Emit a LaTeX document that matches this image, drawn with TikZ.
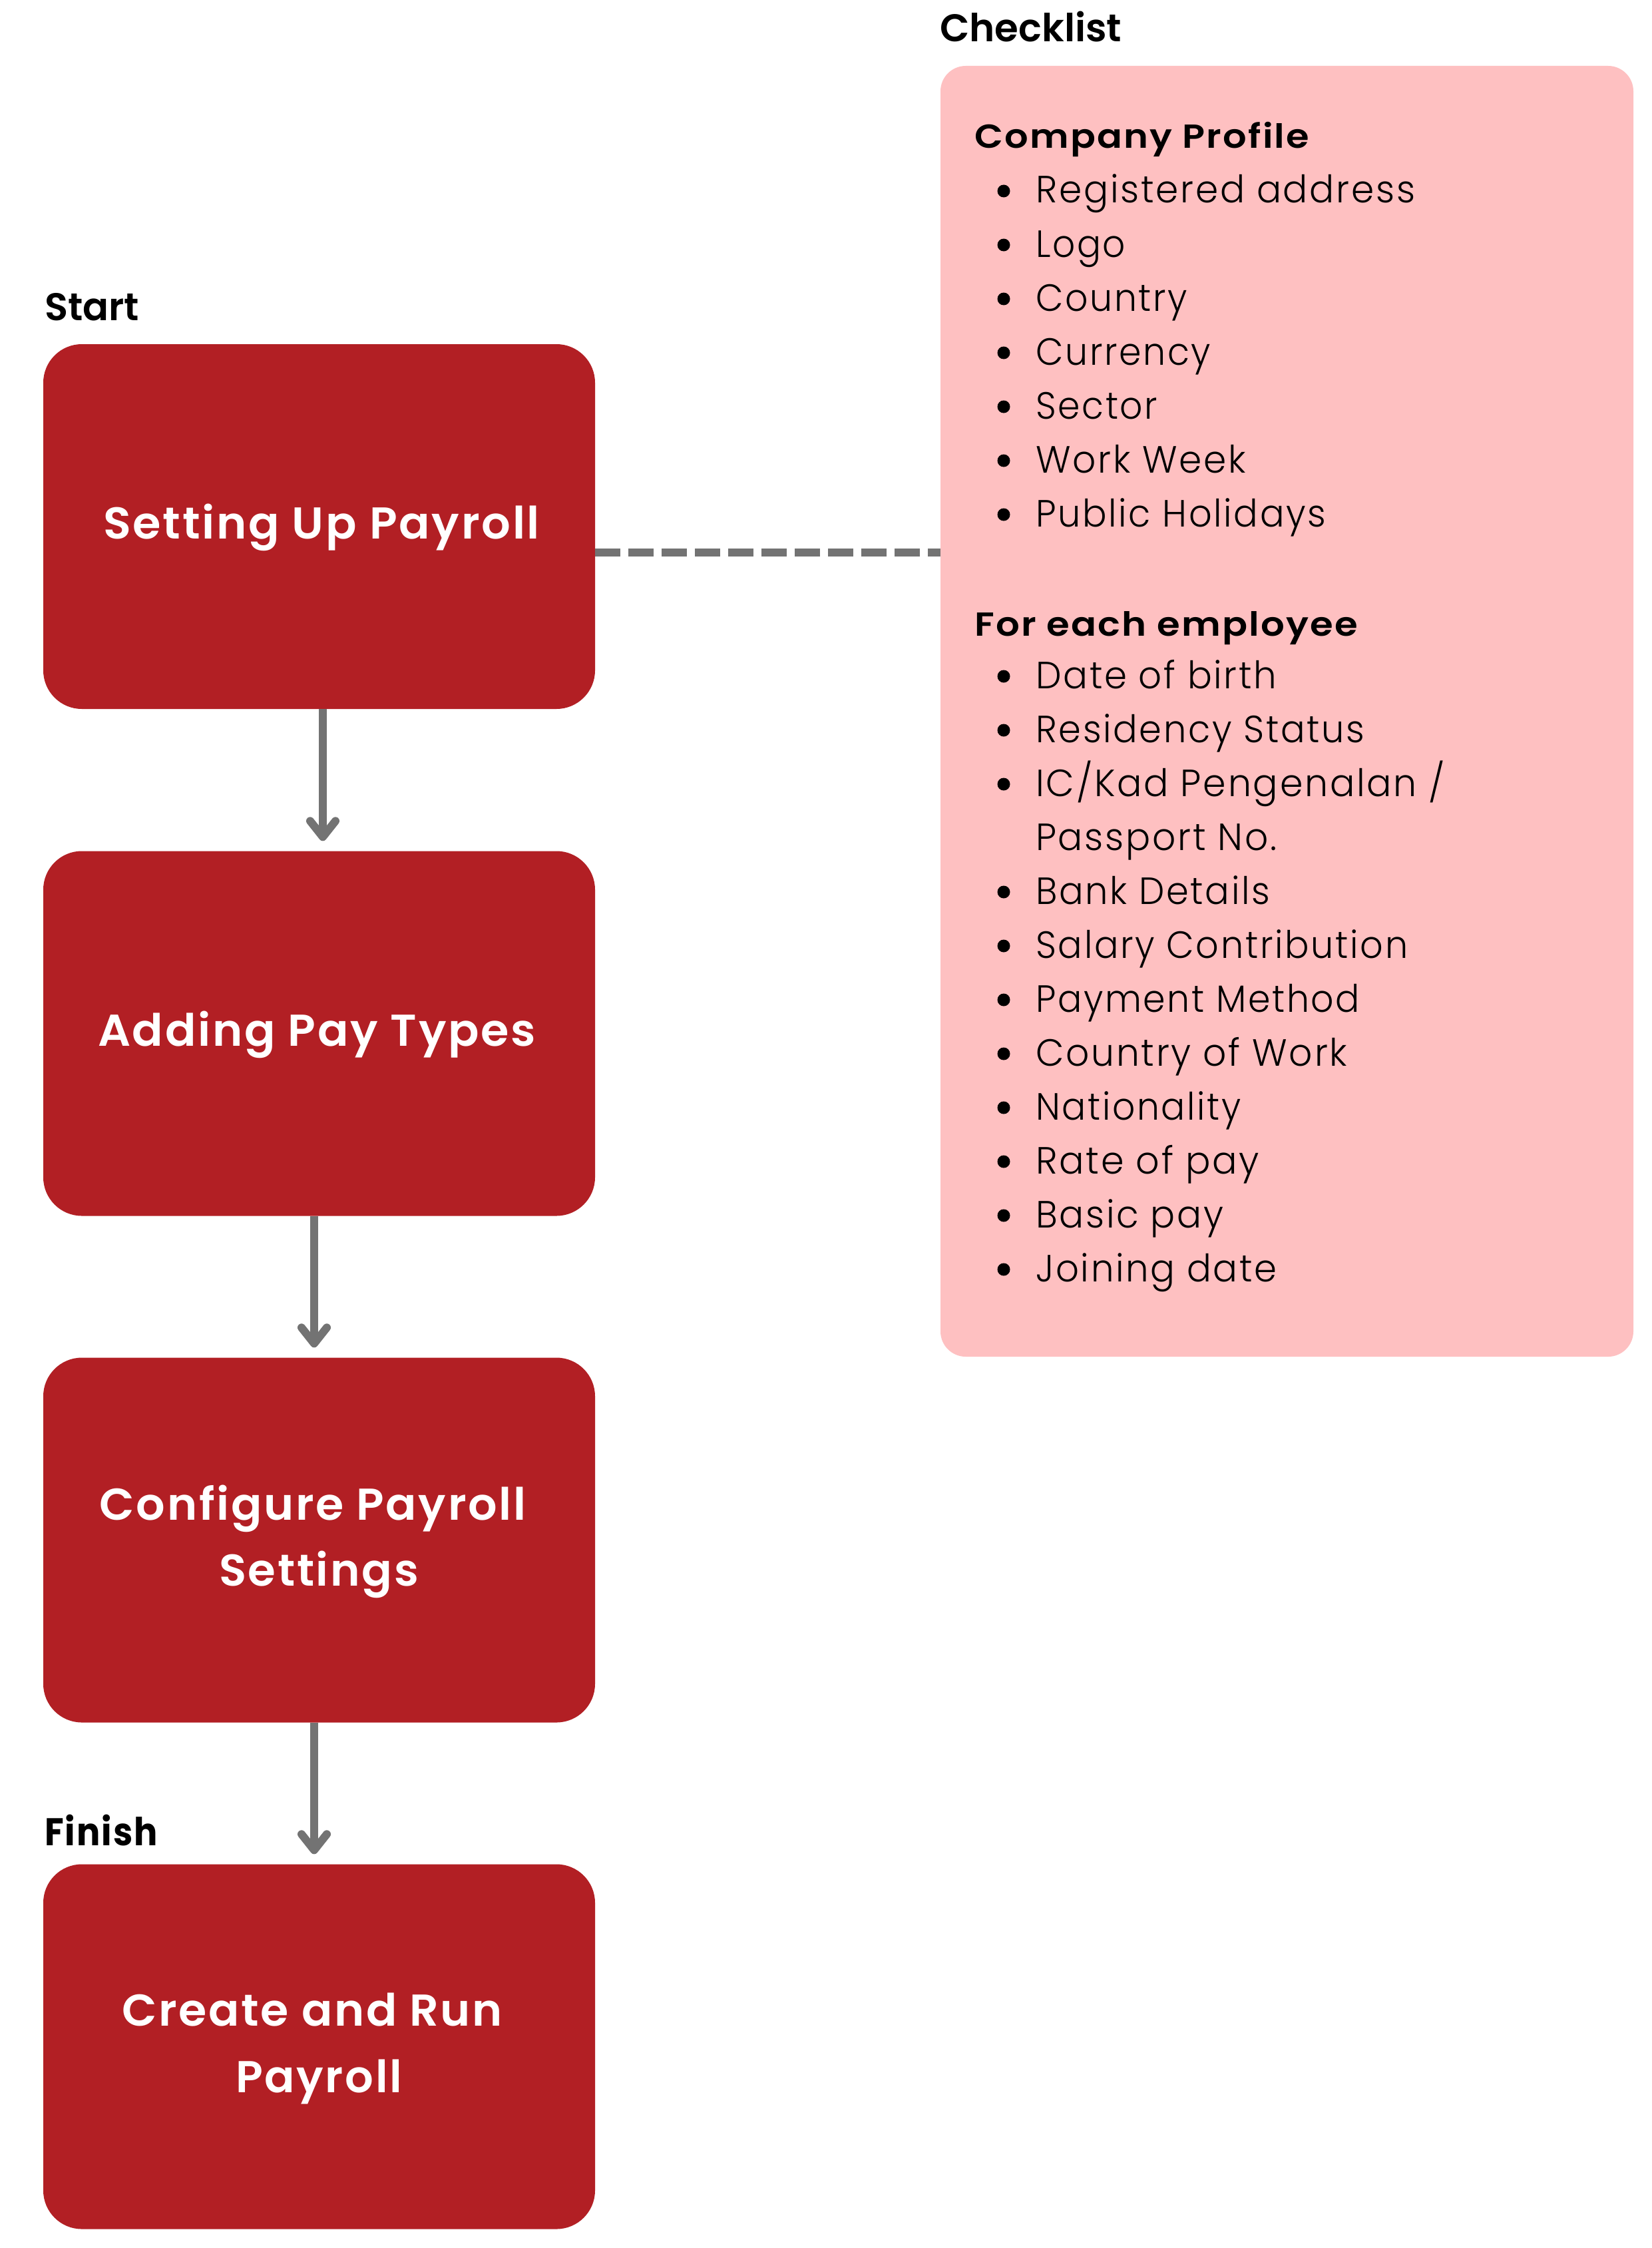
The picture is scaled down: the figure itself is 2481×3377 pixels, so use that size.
\documentclass[tikz,border=0pt]{standalone}
\usepackage{fontspec}
\usepackage{graphicx}
\usetikzlibrary{arrows.meta}
\setmainfont{Poppins}
\newfontfamily\pLight{Poppins Light}[LetterSpace=5]
\newfontfamily\pSemi{Poppins SemiBold}[LetterSpace=4]
\newfontfamily\pMed{Poppins SemiBold}
\newfontfamily\pBold{Poppins Bold}[LetterSpace=4]
\definecolor{boxred}{HTML}{B21F24}
\definecolor{chkpink}{HTML}{FEC0C1}
\definecolor{linegray}{HTML}{737373}
\newsavebox\fitbx
\newlength\fitlen
\newcommand\fitw[2]{\sbox\fitbx{#2}\fitlen=\wd\fitbx\pgfmathsetmacro\fitr{#1/\fitlen}\scalebox{\fitr}[1]{\usebox\fitbx}}
\newcommand\itemfont{\pLight\fontsize{57}{60}\selectfont}
\newcommand\headfont{\pSemi\fontsize{50}{55}\selectfont}
\newcommand\labfont{\pMed\fontsize{58}{62}\selectfont}
\newcommand\finfont{\pBold\fontsize{58}{62}\selectfont}
\newcommand\titfont{\pSemi\fontsize{67}{72}\selectfont}
\tikzset{
  stepbox/.style={draw=none, fill=boxred, rounded corners=58pt, minimum width=829pt, minimum height=548pt, inner sep=0pt},
  chkbox/.style={draw=none, fill=chkpink, rounded corners=38pt, minimum width=1041pt, minimum height=1939pt, inner sep=0pt},
  itm/.style={inner sep=0pt, anchor=base west, text=black, font=\itemfont},
  hdr/.style={inner sep=0pt, anchor=base west, text=black, font=\headfont},
  lab/.style={inner sep=0pt, anchor=base west, text=black, font=\labfont},
  fin/.style={inner sep=0pt, anchor=base west, text=black, font=\finfont},
  tit/.style={inner sep=0pt, anchor=base, text=white, font=\titfont},
  bul/.style={circle, fill=black, draw=none, inner sep=0pt, minimum size=19pt},
  arr/.style={draw=linegray, line width=12pt, shorten >=15pt, -{Straight Barb[length=24pt,width=38pt,round]}},
  dashline/.style={draw=linegray, line width=12pt, dash pattern=on 38pt off 12pt}
}
\newcommand\chkitem[4]{%
  \node[bul] (#1b) at (1508,{#2-18}) {};
  \node[itm] (#1) at (1556,#2) {\fitw{#3}{#4}};}
\begin{document}
\begin{tikzpicture}[x=1pt,y=-1pt]
\useasboundingbox (0,0) rectangle (2481,3377);
\fill[white] (0,0) rectangle (2481,3377);
% step boxes
\node[stepbox] (b1) at (479.5,791) {};
\node[stepbox] (b2) at (479.5,1552.5) {};
\node[stepbox] (b3) at (479.5,2313.5) {};
\node[stepbox] (b4) at (479.5,3074.5) {};
% checklist box
\node[chkbox] (chk) at (1933.5,1068.5) {};
% labels
\node[lab] (start) at (67,481) {\fitw{142}{Start}};
\node[lab] (checklist) at (1412,63) {\fitw{273}{Checklist}};
\node[fin] (finish) at (67,2772) {\fitw{170}{Finish}};
% titles
\node[tit] (t1) at (483,809) {\fitw{656}{Setting Up Payroll}};
\node[tit] (t2) at (476,1571) {\fitw{658}{Adding Pay Types}};
\node[tit] (t3a) at (470,2283) {\fitw{641}{Configure Payroll}};
\node[tit] (t3b) at (479,2382) {\fitw{300}{Settings}};
\node[tit] (t4a) at (469,3043) {\fitw{572}{Create and Run}};
\node[tit] (t4b) at (479,3143) {\fitw{250}{Payroll}};
% connectors
\coordinate (ax1) at (485,0);
\coordinate (ax2) at (472,0);
\coordinate (dy) at (0,830);
\draw[arr] (b1.south -| ax1) -- (b2.north -| ax1);
\draw[arr] (b2.south -| ax2) -- (b3.north -| ax2);
\draw[arr] (b3.south -| ax2) -- (b4.north -| ax2);
\draw[dashline] (b1.east |- dy) -- (chk.west |- dy);
% checklist contents
\node[hdr] (h1) at (1464,223) {\fitw{503}{Company Profile}};
\chkitem{c1}{305}{570}{Registered address}
\chkitem{c2}{386}{135}{Logo}
\chkitem{c3}{467}{228}{Country}
\chkitem{c4}{548}{263}{Currency}
\chkitem{c5}{629}{183}{Sector}
\chkitem{c6}{710}{316}{Work Week}
\chkitem{c7}{791}{436}{Public Holidays}
\node[hdr] (h2) at (1464,955) {\fitw{576}{For each employee}};
\chkitem{e1}{1034}{362}{Date of birth}
\chkitem{e2}{1115}{494}{Residency Status}
\chkitem{e3}{1196}{615}{IC/Kad Pengenalan /}
\node[itm] (e3x) at (1556,1277) {\fitw{362}{Passport No.}};
\chkitem{e4}{1358}{352}{Bank Details}
\chkitem{e5}{1439}{559}{Salary Contribution}
\chkitem{e6}{1520}{487}{Payment Method}
\chkitem{e7}{1601}{468}{Country of Work}
\chkitem{e8}{1682}{308}{Nationality}
\chkitem{e9}{1763}{336}{Rate of pay}
\chkitem{e10}{1844}{282}{Basic pay}
\chkitem{e11}{1925}{362}{Joining date}
\end{tikzpicture}
\end{document}
